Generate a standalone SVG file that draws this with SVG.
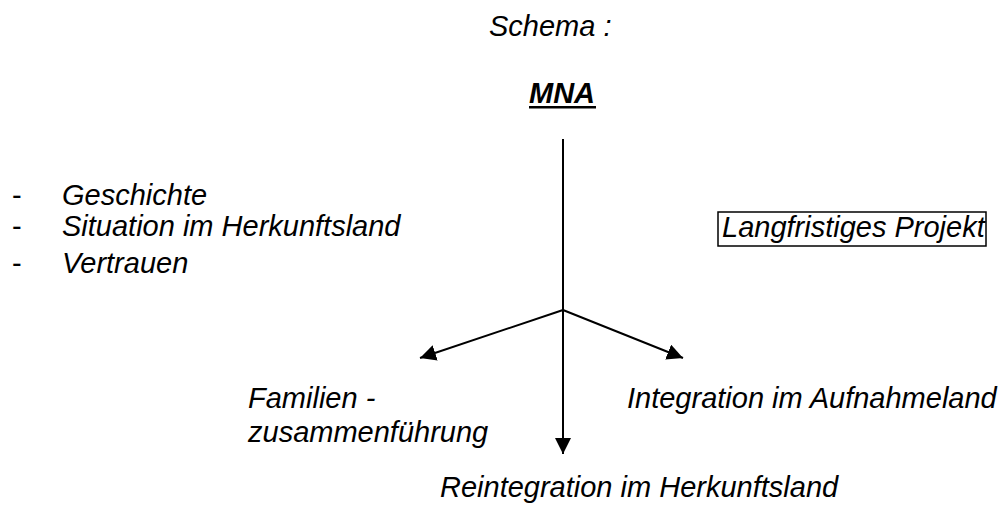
<svg xmlns="http://www.w3.org/2000/svg" width="1002" height="515" viewBox="0 0 1002 515">
<style>
text{font-family:"Liberation Sans",Arial,sans-serif;font-size:29px;font-style:italic;fill:#000}
.b{font-weight:bold}
.ln{stroke:#000;stroke-width:2;fill:none}
</style>
<defs>
<marker id="ah" markerUnits="userSpaceOnUse" markerWidth="17" markerHeight="16" refX="16" refY="8" orient="auto">
<path d="M0,0 L16,8 L0,16 z" fill="#000"/>
</marker>
</defs>
<rect width="1002" height="515" fill="#fff"/>
<g id="title"><text x="489" y="36">Schema :</text></g>
<g id="mna"><text class="b" x="529" y="103">MNA</text><rect x="529" y="106" width="67" height="2.5" fill="#000"/></g>
<g id="factors">
<text x="12" y="205" style="font-style:normal">-</text><text x="62" y="205">Geschichte</text>
<text x="12" y="236" style="font-style:normal">-</text><text x="62" y="236">Situation im Herkunftsland</text>
<text x="12" y="273" style="font-style:normal">-</text><text x="62" y="273">Vertrauen</text>
</g>
<g id="projekt"><rect x="718" y="212" width="268" height="34" fill="none" stroke="#000" stroke-width="1.5"/><text x="722" y="237">Langfristiges Projekt</text></g>
<g id="familien"><text x="248" y="408">Familien -</text><text x="248" y="442">zusammenführung</text></g>
<g id="integration"><text x="627" y="408">Integration im Aufnahmeland</text></g>
<g id="reintegration"><text x="440" y="497">Reintegration im Herkunftsland</text></g>
<g id="connectors">
<line class="ln" x1="563" y1="139" x2="563" y2="454" marker-end="url(#ah)"/>
<line class="ln" x1="563" y1="310" x2="420" y2="358" marker-end="url(#ah)"/>
<line class="ln" x1="563" y1="310" x2="683" y2="358" marker-end="url(#ah)"/>
</g>
</svg>
